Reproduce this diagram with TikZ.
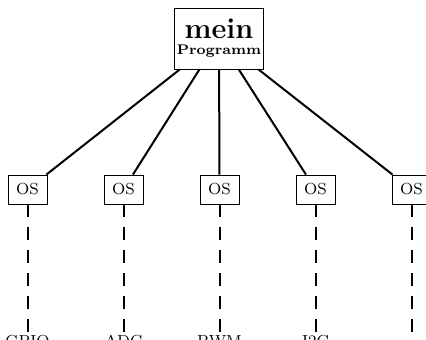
\documentclass[tikz,border=0pt]{standalone}
\usepackage{tikz}

\tikzset{
  osbox/.style={draw, font=\footnotesize, minimum width=19.5pt, minimum height=14.5pt, inner sep=1pt},
  progbox/.style={draw, font=\bfseries, align=center, minimum width=44.5pt, minimum height=30.5pt, inner sep=1pt},
  ioname/.style={font=\footnotesize, anchor=north, inner sep=1pt},
  call/.style={line width=1pt},
  wire/.style={line width=1pt, dash pattern=on 6.5pt off 5pt}
}

\begin{document}
\begin{tikzpicture}[x=0.5pt, y=0.5pt]
\useasboundingbox (0, 0) rectangle (426, 340);
% Hauptprogramm
\node[progbox] (prog) at (219, 301.5) {{\Large mein}\\[-4pt]{\scriptsize Programm}};
% Betriebssystem-Aufrufe
\node[osbox] (os1) at (27.5, 150.5) {OS};
\node[osbox] (os2) at (123.5, 150.5) {OS};
\node[osbox] (os3) at (219.5, 150.5) {OS};
\node[osbox] (os4) at (315.5, 150.5) {OS};
\node[osbox] (os5) at (411.5, 150.5) {OS};
% Peripherie
\node[ioname] (gpio) at (27.5, 7) {GPIO};
\node[ioname] (adc) at (123.5, 7) {ADC};
\node[ioname] (pwm) at (219.5, 7) {PWM};
\node[ioname] (itwoc) at (315.5, 7) {I2C};
\coordinate (io5) at (411.5, 7);
%Verbindungen
\draw[call] (prog) -- (os1);
\draw[call] (prog) -- (os2);
\draw[call] (prog) -- (os3);
\draw[call] (prog) -- (os4);
\draw[call] (prog) -- (os5);
\draw[wire] (os1) -- (gpio);
\draw[wire] (os2) -- (adc);
\draw[wire] (os3) -- (pwm);
\draw[wire] (os4) -- (itwoc);
\draw[wire] (os5) -- (io5);
\end{tikzpicture}
\end{document}
